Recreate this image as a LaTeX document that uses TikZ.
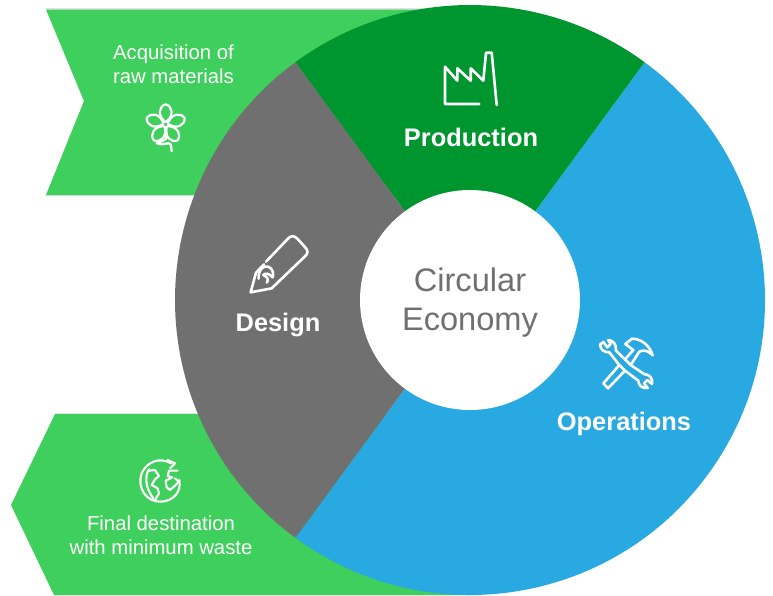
\documentclass[tikz,border=0pt]{standalone}
\usepackage{fontspec}
\setmainfont{Liberation Sans}
\definecolor{lightgreen}{HTML}{3ECF5C}
\definecolor{darkgreen}{HTML}{00962F}
\definecolor{ringgrey}{HTML}{707070}
\definecolor{ringblue}{HTML}{29A9E1}
\definecolor{edgeshade}{HTML}{E2E2E2}
\tikzset{
  iconline/.style={draw=white,line width=2.6pt,line cap=round,line join=round},
  smalllabel/.style={text=white,align=center,inner sep=0pt,font=\fontsize{20.3}{24}\selectfont},
  biglabel/.style={text=white,inner sep=0pt,font=\fontsize{25.4}{30}\selectfont\bfseries}
}
\begin{document}
\begin{tikzpicture}[x=1pt,y=1pt]
\useasboundingbox (0,0) rectangle (773,-595);
\fill[white] (0,0) rectangle (773,-595);
% banner edge shading
\fill[edgeshade] (46,-9) -- (84,-101) -- (46,-196) -- (450,-196) -- (450,-8) -- (46,-8) -- cycle;
\fill[edgeshade] (55,-413) -- (300,-413) -- (300,-420) -- (55,-420) -- cycle;
% banners
\fill[lightgreen] (46,-9.5) -- (84,-101) -- (46,-195) -- (450,-195) -- (450,-9.5) -- cycle;
\fill[lightgreen] (55,-414) -- (11,-505) -- (54,-595) -- (480,-595) -- (480,-414) -- cycle;
% ring sectors
\coordinate (c) at (470,-300);
\fill[ringblue] (c) -- ++(53.7:295) arc[start angle=53.7,end angle=-126.3,radius=295] -- cycle;
\fill[darkgreen] (c) -- ++(53.7:295) arc[start angle=53.7,end angle=126.3,radius=295] -- cycle;
\fill[ringgrey] (c) -- ++(126.3:295) arc[start angle=126.3,end angle=233.7,radius=295] -- cycle;
\node[circle,fill=white,minimum size=220pt,inner sep=0pt] (disc) at (c) {};
\node[inner sep=0pt,text=ringgrey,align=center,font=\fontsize{32.6}{39}\selectfont] (centre) at (470,-303) {Circular\\Economy};
% labels
\node[smalllabel] (acq) at (173.5,-64) {Acquisition of\\raw materials};
\node[smalllabel] (fin) at (161,-535) {Final destination\\with minimum waste};
\node[biglabel] (prod) at (471,-137) {Production};
\node[biglabel] (des) at (278,-325) {Design};
\node[biglabel] (ops) at (624,-424) {Operations};
% factory
\draw[iconline] (479.3,-104) -- (445,-104) -- (445,-66.7) -- (457.3,-80.7) -- (457.3,-68.3) -- (470.7,-80.7) -- (470.7,-68.3) -- (483.3,-80.7) -- (486,-52.7) -- (491.7,-52.7) -- (496.7,-105);
% pencil
\begin{scope}[shift={(230,-220)},x=0.3333pt,y=-0.3333pt]
\draw[iconline] (108,125) -- (172,58) .. controls (182,46) and (192,46) .. (202,56) -- (224,80) .. controls (236,92) and (234,100) .. (226,108) -- (125,205) -- (62,217) -- (78,158) -- (102,133);
\draw[iconline] (86,176) .. controls (84,150) and (100,135) .. (115,140) .. controls (128,146) and (132,160) .. (128,172) .. controls (118,160) and (105,158) .. (100,165) .. controls (112,170) and (118,180) .. (110,188);
\end{scope}
% tools
\begin{scope}[shift={(580,-320)},x=0.3333pt,y=-0.3333pt]
\draw[iconline] (135,118) -- (108,92) .. controls (110,72) and (98,60) .. (84,60) -- (92,72) -- (82,82) -- (70,66) -- (60,74) .. controls (62,90) and (72,97) .. (88,97) -- (118,135) -- (135,152) -- (175,182) .. controls (175,195) and (185,206) .. (203,204) -- (192,190) -- (202,180) -- (216,192) .. controls (220,175) and (208,163) .. (192,162) -- (152,135) -- cycle;
\draw[iconline] (118,135) -- (70,190) -- (84,205) -- (135,152);
\draw[iconline] (135,118) -- (160,90) -- (136,72) -- (156,56) .. controls (185,56) and (210,78) .. (218,106) .. controls (205,92) and (190,88) .. (178,95) -- (152,135);
\end{scope}
% flower
\begin{scope}[shift={(165.7,-124.3)}]
\foreach \a in {90,162,234,306,18}{
  \draw[iconline,line width=2.2pt,rotate=\a] (3.5,-1.5) .. controls (9,-8) and (18,-7) .. (20,0) .. controls (18,7) and (9,8) .. (3.5,1.5);
}
\draw[iconline,line width=2.2pt] (0,0) circle (3);
\draw[iconline,line width=2.2pt] (0,-3) .. controls (1,-10) and (2,-12) .. (0,-15) .. controls (-3,-17) and (-7,-18) .. (-9,-19) .. controls (-4,-22) and (3,-17) .. (5,-20) -- (6,-27);
\end{scope}
% globe
\begin{scope}[shift={(125,-450)},x=0.3333pt,y=-0.3333pt]
\draw[iconline,line width=2.1pt] (138,40) .. controls (105,20) and (65,35) .. (50,70) .. controls (35,115) and (65,155) .. (105,155) .. controls (145,155) and (170,125) .. (163,90);
\draw[iconline,line width=2.1pt] (128,30) -- (150,40) -- (135,55);
\draw[iconline,line width=2.1pt] (72,58) .. controls (58,80) and (62,115) .. (85,145);
\draw[iconline,line width=2.1pt] (72,62) -- (90,60) -- (102,78) -- (90,88) -- (80,105) -- (98,115) -- (102,130) -- (90,150);
\draw[iconline,line width=2.1pt] (158,62) -- (132,62) -- (128,78) -- (142,82) -- (122,92) -- (125,112) -- (135,120) -- (152,105) -- (162,95) -- (150,85);
\end{scope}
\end{tikzpicture}
\end{document}
